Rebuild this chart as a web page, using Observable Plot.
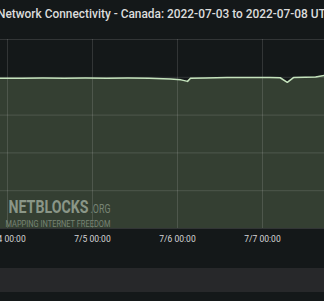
<!DOCTYPE html>
<html>
<head>
<meta charset="utf-8">
<script src="https://cdn.jsdelivr.net/npm/d3@7"></script>
<script src="https://cdn.jsdelivr.net/npm/@observablehq/plot@0.6"></script>
<style>
  html, body { margin: 0; padding: 0; background: #141819; }
  #wrap { position: relative; width: 324px; height: 301px; overflow: hidden; background: #141819; }
  #title { position: absolute; left: -3px; top: 9px; white-space: nowrap; font: 500 11.9px Roboto, sans-serif; line-height: 1; color: #dcdddd; }
  #chart { position: absolute; left: 0; top: 0; }
  #band { position: absolute; left: 0; top: 268px; width: 324px; height: 24px; background: #27282a; }
</style>
</head>
<body>
<div id="wrap">
  <div id="chart"></div>
  <div id="title">Network Connectivity - Canada: 2022-07-03 to 2022-07-08 UTC</div>
  <div id="band"></div>
</div>
<script>
// Time stamps (UTC) and connectivity values
const times = [
  "2022-07-03T18:00", "2022-07-03T22:00", "2022-07-04T04:00", "2022-07-04T10:00",
  "2022-07-04T16:00", "2022-07-04T22:00", "2022-07-05T04:00", "2022-07-05T10:00",
  "2022-07-05T16:00", "2022-07-05T22:00", "2022-07-06T01:00", "2022-07-06T02:50",
  "2022-07-06T03:40", "2022-07-06T08:00", "2022-07-06T14:00", "2022-07-06T20:00",
  "2022-07-07T02:00", "2022-07-07T05:00", "2022-07-07T07:00", "2022-07-07T08:45",
  "2022-07-07T12:00", "2022-07-07T15:00", "2022-07-07T17:30", "2022-07-07T22:00"
];
const values = [
  99.4, 99.4, 99.3, 99.5,
  99.4, 99.5, 99.4, 99.5,
  99.3, 98.9, 98.3, 97.3,
  99.4, 99.6, 99.8, 99.9,
  99.9, 99.7, 96.7, 99.8,
  100.0, 100.2, 101.2, 101.4
];
const tickDays = ["2022-07-04", "2022-07-05", "2022-07-06", "2022-07-07"];
const domainEnd = "2022-07-08";
const yTicks = [0, 25, 50, 75, 100, 125];
const watermark = ["NETBLOCKS", ".ORG", "MAPPING INTERNET FREEDOM"];

const data = times.map((t, i) => ({date: new Date(t + ":00Z"), value: values[i]}));
const days = tickDays.map(d => new Date(d + "T00:00:00Z"));
const end = new Date(domainEnd + "T00:00:00Z");

const chart = Plot.plot({
  width: 324,
  height: 268,
  marginTop: 39,
  marginBottom: 40,
  marginLeft: 0,
  marginRight: 0,
  style: {background: "transparent", color: "#d4d5d6", fontFamily: "Roboto, sans-serif"},
  x: {type: "utc", domain: [days[0], end], range: [7, 347], axis: null},
  y: {domain: [0, 125], axis: null},
  marks: [
    Plot.areaY(data, {x: "date", y: "value", fill: "#343f32", clip: true}),
    Plot.ruleX(days, {stroke: "#ffffff", strokeOpacity: 0.13, clip: true}),
    Plot.ruleY(yTicks, {stroke: "#ffffff", strokeOpacity: 0.13}),
    Plot.text([watermark[0]], {text: d => d, frameAnchor: "bottom-left", dx: 8, dy: -16, lineAnchor: "bottom", textAnchor: "start", fontSize: 19, fontWeight: "bold", fill: "#8a9687", className: "wm-main"}),
    Plot.text([watermark[1]], {text: d => d, frameAnchor: "bottom-left", dx: 90, dy: -16, lineAnchor: "bottom", textAnchor: "start", fontSize: 13.5, fontWeight: "normal", fill: "#778474", className: "wm-org"}),
    Plot.text([watermark[2]], {text: d => d, frameAnchor: "bottom-left", dx: 5, dy: -2, lineAnchor: "bottom", textAnchor: "start", fontSize: 9, fill: "#778474", className: "wm-sub"}),
    Plot.lineY(data, {x: "date", y: "value", stroke: "#c5e3bd", strokeWidth: 1.5, clip: true}),
    Plot.axisX(days, {tickSize: 0, tickPadding: 7, fontSize: 8.5, fill: "#d4d5d6",
      tickFormat: d => `${d.getUTCMonth() + 1}/${d.getUTCDate()} 00:00`})
  ]
});
document.getElementById("chart").appendChild(chart);

// Condense the watermark texts horizontally to the widths seen in the reference
function condense(sel, target) {
  d3.select(chart).selectAll(sel).each(function() {
    const len = this.getComputedTextLength();
    if (!len) return;
    const k = target / len;
    const t = this.getAttribute("transform") || "";
    const m = /translate\(([-\d.]+),([-\d.]+)\)/.exec(t);
    if (m) {
      this.setAttribute("transform", `translate(${m[1]},${m[2]}) scale(${k},1)`);
    } else {
      const x = +(this.getAttribute("x") || 0), y = +(this.getAttribute("y") || 0);
      this.setAttribute("transform", `translate(${x},${y}) scale(${k},1)`);
      this.setAttribute("x", 0); this.setAttribute("y", 0);
    }
  });
}
condense(".wm-main text", 80);
condense(".wm-org text", 20);
condense(".wm-sub text", 105);
</script>
</body>
</html>
